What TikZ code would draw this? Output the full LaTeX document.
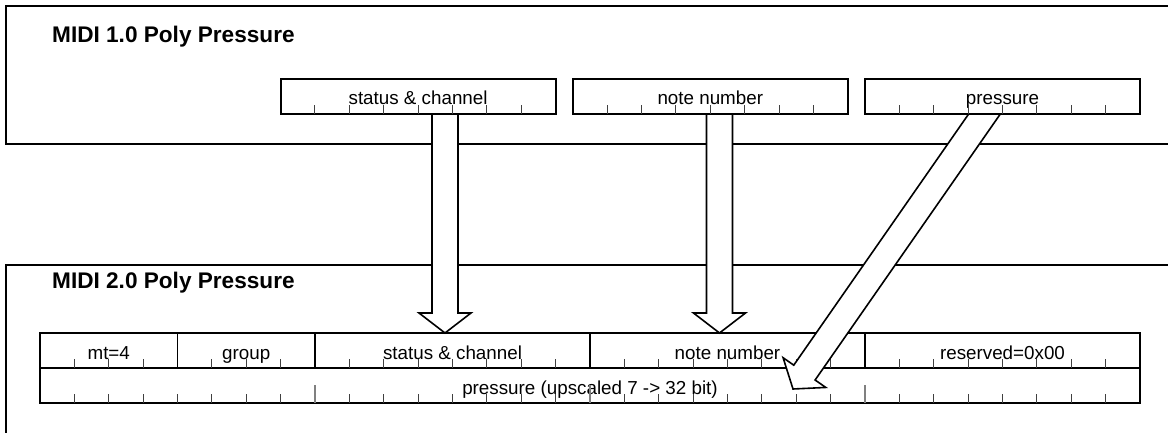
\documentclass[tikz,border=0pt]{standalone}
\usepackage{fontspec}
\setmainfont{Liberation Sans}
\usetikzlibrary{calc,positioning}
\newcommand\bitw{34.375}
\newcommand\fieldfont{\fontsize{18.8}{22}\selectfont}
\newcommand\titlefont{\fontsize{22.6}{26}\selectfont\bfseries}
\newcommand\fatarrow[2]{%
  \coordinate (fa) at ($(#2)!20pt!(#1)$);
  \draw[fat] ($(#1)!13pt!90:(#2)$) -- ($(fa)!13pt!90:(#2)$) -- ($(fa)!26pt!90:(#2)$)
    -- (#2) -- ($(fa)!26pt!-90:(#2)$) -- ($(fa)!13pt!-90:(#2)$) -- ($(#1)!13pt!-90:(#2)$) -- cycle;}
\tikzset{
  frame/.style={black,line width=1.5pt},
  field/.style={draw=black,line width=1.8pt,fill=white,inner sep=0pt,outer sep=0pt,
                minimum width=#1*\bitw,minimum height=35,text height=20pt,text depth=3pt,
                font=\fieldfont},
  field/.default=8,
  tick/.style={black!75,line width=1pt},
  longtick/.style={black!50,line width=1.2pt},
  fat/.style={draw=black,fill=white,line width=1.6pt,line join=miter},
  title/.style={font=\titlefont,anchor=base west,inner sep=0pt},
}
\begin{document}
\begin{tikzpicture}[x=1pt,y=-1pt]
  \useasboundingbox (0,0) rectangle (1168,433);
  \clip (0,0) rectangle (1168,433);
  \draw[frame] (1180,6) -- (6,6) -- (6,144) -- (1180,144);
  \draw[frame] (1180,265) -- (6,265) -- (6,445);
  \node[title] (midi1) at (52,43) {MIDI 1.0 Poly Pressure};
  \node[title] (midi2) at (52,288) {MIDI 2.0 Poly Pressure};

  % MIDI 2.0 packet, 32 bits per row
  \node[field=4,anchor=north west] (mt) at (40,333) {mt=4};
  \node[field=4,right=0pt of mt] (grp) {group};
  \node[field,right=0pt of grp] (status2) {status \& channel};
  \node[field,right=0pt of status2] (note2) {note number};
  \node[field,right=0pt of note2] (rsvd) {reserved=0x00};
  \node[field=32,anchor=north west] (press2) at (mt.south west) {pressure (upscaled 7 -> 32 bit)};
  \foreach \fld/\m in {mt/3,grp/3,status2/7,note2/7,rsvd/7,press2/31}
    \foreach \i in {1,...,\m}
      \draw[tick] ($(\fld.south west)+(\i*\bitw,0)$) -- ++(0,-9);
  \foreach \i in {8,16,24}
    \draw[longtick] ($(press2.south west)+(\i*\bitw,0)$) -- ++(0,-18);

  % translation arrows
  \coordinate (a1s) at (445,114);
  \coordinate (a1e) at (status2.north -| a1s);
  \coordinate (a2s) at (719.5,114);
  \coordinate (a2e) at (note2.north -| a2s);
  \coordinate (a3s) at (995.9,97.6);
  \coordinate (a3e) at (793,389);
  \fatarrow{a1s}{a1e}
  \fatarrow{a2s}{a2e}
  \fatarrow{a3s}{a3e}

  % MIDI 1.0 bytes
  \node[field,anchor=north west] (status1) at (280.6,79) {status \& channel};
  \node[field,right=17.2pt of status1] (note1) {note number};
  \node[field,right=17.2pt of note1] (press1) {pressure};
  \foreach \fld in {status1,note1,press1}
    \foreach \i in {1,...,7}
      \draw[tick] ($(\fld.south west)+(\i*\bitw,0)$) -- ++(0,-9);
\end{tikzpicture}
\end{document}
